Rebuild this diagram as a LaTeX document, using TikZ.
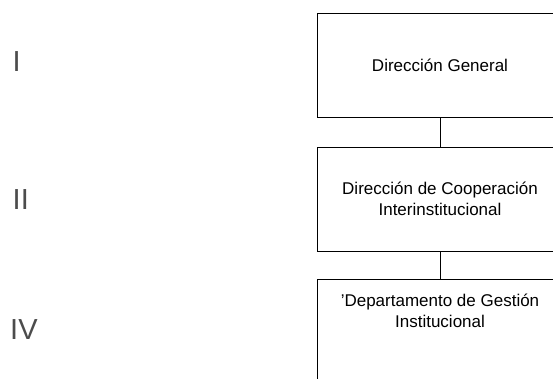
\documentclass[tikz,border=0pt]{standalone}
\usepackage{fontspec}
\setmainfont{Liberation Sans}
\usetikzlibrary{positioning}

\begin{document}
\begin{tikzpicture}[x=1pt,y=-1pt,
    unit/.style={draw,line width=.9pt,minimum width=246pt,minimum height=104pt,
      align=center,font=\fontsize{17}{21}\selectfont,inner sep=0pt},
    level/.style={anchor=base west,text=black!70,font=\fontsize{29}{30}\selectfont,inner sep=0pt}]
  \useasboundingbox (0,0) rectangle (553,379);
  \node[unit] (dg) at (440,65) {Dirección General};
  \node[unit] (dci) at (440,199) {Dirección de Cooperación\\Interinstitucional};
  \node[unit,text depth=40pt] (dgi) at (440,331) {'Departamento de Gestión\\Institucional};
  \draw[line width=.9pt] (dg.south)--(dci.north);
  \draw[line width=.9pt] (dci.south)--(dgi.north);
  \node[level] (l1) at (12.5,72) {I};
  \node[level] (l2) at (12.5,209) {II};
  \node[level] (l4) at (10,339) {IV};
\end{tikzpicture}
\end{document}
